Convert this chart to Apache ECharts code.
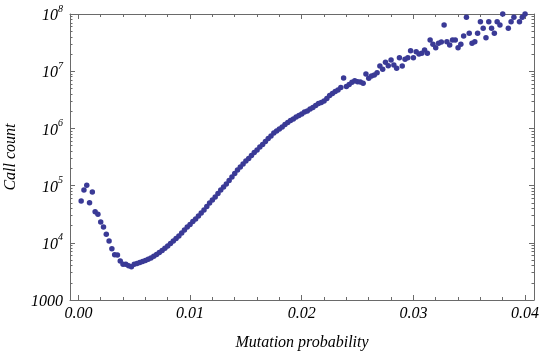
<!DOCTYPE html>
<html><head><meta charset="utf-8">
<script src="https://cdn.jsdelivr.net/npm/echarts@6/dist/echarts.min.js"></script>
<style>html,body{margin:0;padding:0;background:#fff}#c{width:541px;height:352px}</style>
</head><body><div id="c"></div>
<script>
const mutationProbability = [
0.00025,0.0005,0.00075,0.001,0.00125,0.0015,0.00175,0.002,0.00225,0.0025,
0.00275,0.003,0.00325,0.0035,0.00375,0.004,0.00425,0.0045,0.00475,0.005,
0.00525,0.0055,0.00575,0.006,0.00625,0.0065,0.00675,0.007,0.00725,0.0075,
0.00775,0.008,0.00825,0.0085,0.00875,0.009,0.00925,0.0095,0.00975,0.01,
0.01025,0.0105,0.01075,0.011,0.01125,0.0115,0.01175,0.012,0.01225,0.0125,
0.01275,0.013,0.01325,0.0135,0.01375,0.014,0.01425,0.0145,0.01475,0.015,
0.01525,0.0155,0.01575,0.016,0.01625,0.0165,0.01675,0.017,0.01725,0.0175,
0.01775,0.018,0.01825,0.0185,0.01875,0.019,0.01925,0.0195,0.01975,0.02,
0.02025,0.0205,0.02075,0.021,0.02125,0.0215,0.02175,0.022,0.02225,0.0225,
0.02275,0.023,0.02325,0.0235,0.02375,0.024,0.02425,0.0245,0.02475,0.025,
0.02525,0.0255,0.02575,0.026,0.02625,0.0265,0.02675,0.027,0.02725,0.0275,
0.02775,0.028,0.02825,0.0285,0.02875,0.029,0.02925,0.0295,0.02975,0.03,
0.03025,0.0305,0.03075,0.031,0.03125,0.0315,0.03175,0.032,0.03225,0.0325,
0.03275,0.033,0.03325,0.0335,0.03375,0.034,0.03425,0.0345,0.03475,0.035,
0.03525,0.0355,0.03575,0.036,0.03625,0.0365,0.03675,0.037,0.03725,0.0375,
0.03775,0.038,0.03825,0.0385,0.03875,0.039,0.03925,0.0395,0.03975,0.04
];
const callCount = [
53800,83800,101000,50200,77300,35000,31500,23100,18900,14100,
10700,7890,6190,6120,4810,4210,4210,3980,3820,4210,
4350,4530,4710,4910,5150,5420,5810,6240,6760,7330,
8010,8790,9720,10700,11900,13100,14800,16700,18900,20900,
23600,26100,29400,33200,37400,43100,49700,56000,63200,72800,
83800,94600,107000,123000,141000,163000,187000,211000,239000,269000,
298000,336000,379000,419000,473000,523000,590000,666000,736000,832000,
901000,977000,1057000,1170000,1268000,1374000,1459000,1581000,1682000,1786000,
1936000,2015000,2183000,2319000,2512000,2723000,2836000,3015000,3334000,3758000,
4074000,4416000,4690000,5188000,7603000,5408000,5851000,6397000,6823000,6548000,
6471000,6144000,8935000,7516000,8239000,8590000,9420000,12330000,10790000,14320000,
12480000,15700000,12830000,11240000,17220000,12330000,16140000,17220000,22820000,17220000,
21930000,19990000,20560000,23480000,20560000,35090000,29540000,25770000,30750000,32370000,
64280000,32790000,28710000,35090000,35090000,25770000,29540000,41220000,87440000,45990000,
30750000,32790000,45990000,73340000,56230000,38540000,73340000,56230000,45990000,73340000,
64280000,100000000,null,56230000,73340000,87440000,null,73340000,87440000,100000000
];
const xMajorTicks = [0, 0.01, 0.02, 0.03, 0.04];
const xMinorTicks = [0.002,0.004,0.006,0.008,0.012,0.014,0.016,0.018,0.022,0.024,0.026,0.028,0.032,0.034,0.036,0.038];
const yMajorTicks = [1e3, 1e4, 1e5, 1e6, 1e7, 1e8];
const yMinorTicks = [
2e3,3e3,4e3,5e3,6e3,7e3,8e3,9e3,
2e4,3e4,4e4,5e4,6e4,7e4,8e4,9e4,
2e5,3e5,4e5,5e5,6e5,7e5,8e5,9e5,
2e6,3e6,4e6,5e6,6e6,7e6,8e6,9e6,
2e7,3e7,4e7,5e7,6e7,7e7,8e7,9e7
];

const X_MIN = -0.00075, X_MAX = 0.0408, Y_MIN = 1e3, Y_MAX = 1e8;
const FONT = "'Liberation Serif', 'Times New Roman', serif";
const LINE = { color: '#6a6a6a', width: 1 };

function xAx(pos, ticks, len, line, labels, extra) {
  return Object.assign({
    type: 'value', position: pos, min: X_MIN, max: X_MAX,
    axisLine: { show: line, onZero: false, lineStyle: LINE },
    axisTick: { show: true, inside: true, length: len, customValues: ticks, lineStyle: LINE },
    axisLabel: labels ? { show: true, customValues: ticks, formatter: v => v.toFixed(2), margin: 6,
      fontFamily: FONT, fontStyle: 'italic', fontSize: 16, color: '#000' } : { show: false },
    splitLine: { show: false }
  }, extra || {});
}
function yAx(pos, ticks, len, line, labels, extra) {
  return Object.assign({
    type: 'log', logBase: 10, position: pos, min: Y_MIN, max: Y_MAX,
    axisLine: { show: line, onZero: false, lineStyle: LINE },
    axisTick: { show: true, inside: true, length: len, customValues: ticks, lineStyle: LINE },
    axisLabel: labels ? { show: true, customValues: ticks, margin: 7,
      formatter: v => { const e = Math.round(Math.log10(v)); return e === 3 ? '{b|1000}' : '{b|10}{s|' + e + '}'; },
      rich: {
        b: { fontFamily: FONT, fontStyle: 'italic', fontSize: 16, color: '#000', lineHeight: 20, verticalAlign: 'bottom' },
        s: { fontFamily: FONT, fontStyle: 'italic', fontSize: 10, color: '#000', lineHeight: 20, verticalAlign: 'top' }
      } } : { show: false },
    splitLine: { show: false }
  }, extra || {});
}

const nameStyle = { fontFamily: FONT, fontStyle: 'italic', fontSize: 16, color: '#000' };

const chart = echarts.init(document.getElementById('c'), null, { renderer: 'canvas' });
chart.setOption({
  animation: false,
  backgroundColor: '#fff',
  grid: { left: 70, top: 14, right: 7, bottom: 52, containLabel: false, outerBoundsMode: 'none' },
  xAxis: [
    xAx('bottom', xMajorTicks, 5, true, true, { name: 'Mutation probability', nameLocation: 'middle', nameGap: 35, nameTextStyle: nameStyle }),
    xAx('bottom', xMinorTicks, 3, false, false),
    xAx('top', xMajorTicks, 5, true, false),
    xAx('top', xMinorTicks, 3, false, false)
  ],
  yAxis: [
    yAx('left', yMajorTicks, 5, true, true, { name: 'Call count', nameLocation: 'middle', nameGap: 51, nameTextStyle: nameStyle }),
    yAx('left', yMinorTicks, 2.5, false, false),
    yAx('right', yMajorTicks, 5, true, false),
    yAx('right', yMinorTicks, 2.5, false, false)
  ],
  series: [{
    type: 'scatter', xAxisIndex: 0, yAxisIndex: 0,
    symbol: 'circle', symbolSize: 5.5,
    itemStyle: { color: '#3a3a96', opacity: 1 },
    data: mutationProbability.map((x, i) => [x, callCount[i]]).filter(d => d[1] != null)
  }]
});
</script></body></html>
